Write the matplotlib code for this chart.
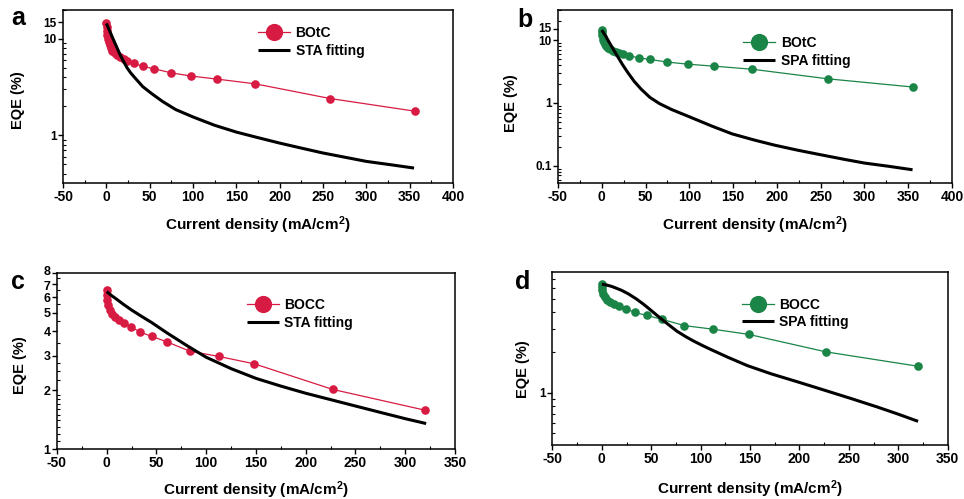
import numpy as np
import matplotlib
matplotlib.use("Agg")
import matplotlib.pyplot as plt
import matplotlib.transforms as mtransforms
from matplotlib.font_manager import FontProperties
from matplotlib.ticker import FixedLocator, FixedFormatter, NullFormatter, LogLocator

plt.rcParams['font.family'] = ['Liberation Sans', 'DejaVu Sans']
plt.rcParams['font.weight'] = 'bold'
plt.rcParams['mathtext.default'] = 'regular'

# ---- BOtC device: measured EQE vs current density ----
j_botc = [0, 0.3, 0.7, 1.2, 1.8, 2.6, 3.6, 5, 7, 9.5, 12.5, 16, 20, 24, 31.5,
          42, 55, 75, 98, 128, 172, 258, 356]
eqe_botc = [14.6, 13.2, 12.0, 11.0, 10.1, 9.3, 8.6, 8.0, 7.5, 7.1, 6.75, 6.45,
            6.2, 5.95, 5.6, 5.2, 4.9, 4.45, 4.12, 3.83, 3.42, 2.41, 1.78]

# STA fit for BOtC
j_botc_sta = [0, 4, 8, 12, 16, 20, 24, 28, 33.5, 42, 52, 65, 80, 100, 125,
              150, 174, 200, 224, 250, 274, 300, 328, 355]
eqe_botc_sta = [14.5, 12.0, 9.9, 8.2, 6.8, 5.8, 5.0, 4.45, 3.9, 3.2, 2.72, 2.24,
                1.85, 1.55, 1.27, 1.08, 0.95, 0.83, 0.74, 0.655, 0.595, 0.536,
                0.495, 0.457]

# SPA fit for BOtC
j_botc_spa = [0, 5, 11, 17, 24, 30, 37, 45, 55, 66, 80, 100, 126, 149, 175,
              198, 224, 247, 277, 300, 327, 355]
eqe_botc_spa = [14.4, 11.2, 8.0, 5.8, 4.0, 3.0, 2.2, 1.65, 1.22, 0.97, 0.78,
                0.6, 0.425, 0.32, 0.254, 0.211, 0.176, 0.152, 0.126, 0.11,
                0.098, 0.086]

# ---- BOCC device: measured EQE vs current density ----
j_bocc = [0, 0.2, 0.6, 1.6, 3.3, 5.6, 8.3, 12, 17, 24, 33.5, 45.6, 61, 83.5,
          112.6, 148.4, 227, 320]
eqe_bocc = [6.5, 6.15, 5.8, 5.48, 5.18, 4.92, 4.72, 4.58, 4.43, 4.24, 3.97,
            3.77, 3.53, 3.17, 2.98, 2.73, 2.02, 1.58]

# STA fit for BOCC
j_bocc_sta = [0, 5, 10, 17, 25, 35, 45, 60, 80, 100, 125, 150, 175, 200, 225,
              250, 275, 300, 321]
eqe_bocc_sta = [6.4, 6.1, 5.85, 5.5, 5.15, 4.78, 4.45, 3.95, 3.4, 2.95, 2.58,
                2.3, 2.1, 1.93, 1.79, 1.66, 1.54, 1.43, 1.35]

# SPA fit for BOCC
j_bocc_spa = [0, 5, 10, 15, 20, 27, 35, 42, 49, 55, 60, 68, 76, 85, 93, 102,
              110, 127, 147, 171, 198, 225, 252, 279, 300, 320]
eqe_bocc_spa = [6.45, 6.35, 6.2, 6.0, 5.8, 5.45, 5.0, 4.58, 4.16, 3.82, 3.56,
                3.2, 2.88, 2.62, 2.43, 2.25, 2.11, 1.85, 1.60, 1.39, 1.21, 1.05,
                0.91, 0.785, 0.695, 0.615]

RED = '#D81B42'
GREEN = '#1B8447'

xtick_font = FontProperties(family='Liberation Sans', weight='bold', size=10)
legend_font = FontProperties(family='Liberation Sans', weight='bold', size=10)

fig = plt.figure(figsize=(9.64, 4.99), dpi=100)

panels = [
    dict(rect=[0.0654, 0.6333, 0.4046, 0.3467], letter='a', lx=18, ly=18,
         j=j_botc, eqe=eqe_botc, jf=j_botc_sta, eqef=eqe_botc_sta,
         color=RED, name='BOtC', fit='STA fitting',
         xlim=(-50, 400), ylim=(0.32, 20), ysize=8.5, nudge={},
         yt=[1, 10, 15], leg=(0.50, 0.907), ylab=(-0.097, 0.48), xlab=-0.18),
    dict(rect=[0.5788, 0.6333, 0.4087, 0.3467], letter='b', lx=525, ly=20,
         j=j_botc, eqe=eqe_botc, jf=j_botc_spa, eqef=eqe_botc_spa,
         color=GREEN, name='BOtC', fit='SPA fitting',
         xlim=(-50, 400), ylim=(0.053, 30), ysize=8.5, nudge={'15': 1.5, '10': -1.0},
         yt=[0.1, 1, 10, 15], leg=(0.47, 0.849), ylab=(-0.101, 0.46), xlab=-0.18),
    dict(rect=[0.0591, 0.1002, 0.4129, 0.3533], letter='c', lx=18, ly=282,
         j=j_bocc, eqe=eqe_bocc, jf=j_bocc_sta, eqef=eqe_bocc_sta,
         color=RED, name='BOCC', fit='STA fitting',
         xlim=(-50, 350), ylim=(1, 8), ysize=9, nudge={'8': 2.0, '7': -1.0},
         yt=[1, 2, 3, 4, 5, 6, 7, 8], leg=(0.477, 0.856), ylab=(-0.075, 0.476),
         xlab=-0.172),
    dict(rect=[0.5731, 0.1082, 0.4100, 0.3461], letter='d', lx=523, ly=282,
         j=j_bocc, eqe=eqe_bocc, jf=j_bocc_spa, eqef=eqe_bocc_spa,
         color=GREEN, name='BOCC', fit='SPA fitting',
         xlim=(-50, 350), ylim=(0.41, 7.9), ysize=8.5, nudge={},
         yt=[1], leg=(0.479, 0.852), ylab=(-0.058, 0.44), xlab=-0.195),
]

axes = []
for p in panels:
    ax = fig.add_axes(p['rect'])
    axes.append(ax)
    ax.set_yscale('log')
    ax.plot(p['j'], p['eqe'], '-o', color=p['color'], lw=0.9, ms=6.2,
            mec=p['color'], mew=0, label=p['name'], zorder=2)
    ax.plot(p['jf'], p['eqef'], '-', color='black', lw=2.2,
            label=p['fit'], zorder=3, solid_capstyle='butt',
            solid_joinstyle='round')
    ax.set_xlim(*p['xlim'])
    ax.set_ylim(*p['ylim'])

    xmaj = np.arange(p['xlim'][0], p['xlim'][1] + 1, 50)
    ax.xaxis.set_major_locator(FixedLocator(xmaj))
    ax.xaxis.set_minor_locator(FixedLocator(xmaj[:-1] + 25))
    ax.set_xticklabels([f'{int(v)}' for v in xmaj], fontproperties=xtick_font)

    ax.yaxis.set_major_locator(FixedLocator(p['yt']))
    ax.yaxis.set_major_formatter(FixedFormatter([f'{v:g}' for v in p['yt']]))
    if p['letter'] == 'c':
        minor = list(np.arange(1.1, 2.0, 0.1)) + [2.25, 2.5, 2.75, 3.5, 4.5, 5.5, 6.5, 7.5]
        ax.yaxis.set_minor_locator(FixedLocator(minor))
    else:
        ax.yaxis.set_minor_locator(LogLocator(base=10, subs=np.arange(2, 10)))
    ax.yaxis.set_minor_formatter(NullFormatter())

    ax.tick_params(which='major', direction='out', length=3.5, width=1.0, pad=1.5)
    ax.tick_params(which='minor', direction='in', length=2.5, width=0.8)
    ax.tick_params(axis='y', which='major', pad=1, labelsize=p['ysize'])
    for s in ax.spines.values():
        s.set_linewidth(1.1)

    ax.set_xlabel(r'Current density (mA/cm$^{2}$)', fontsize=11, fontweight='bold')
    ax.xaxis.set_label_coords(0.5, p['xlab'])
    ax.set_ylabel('EQE (%)', fontsize=10.5, fontweight='bold')
    ax.yaxis.set_label_coords(*p['ylab'])

    ax.legend(loc='upper left', bbox_to_anchor=p['leg'], frameon=False,
              borderpad=0, borderaxespad=0, handlelength=2.3,
              handletextpad=0.4, labelspacing=0.25, markerscale=2,
              prop=legend_font)

    fig.text(p['lx'] / 964, 1 - p['ly'] / 499, p['letter'], fontsize=18,
             fontweight='bold', ha='center', va='center')

# Spread apart the tightly stacked y tick labels by a pixel or two
fig.canvas.draw()
for ax, p in zip(axes, panels):
    for tick in ax.yaxis.get_major_ticks():
        lbl = tick.label1
        dy = p['nudge'].get(lbl.get_text())
        if dy:
            lbl.set_transform(lbl.get_transform() +
                              mtransforms.ScaledTranslation(0, dy / 100.0,
                                                            fig.dpi_scale_trans))

fig.savefig('out.png', dpi=100)
